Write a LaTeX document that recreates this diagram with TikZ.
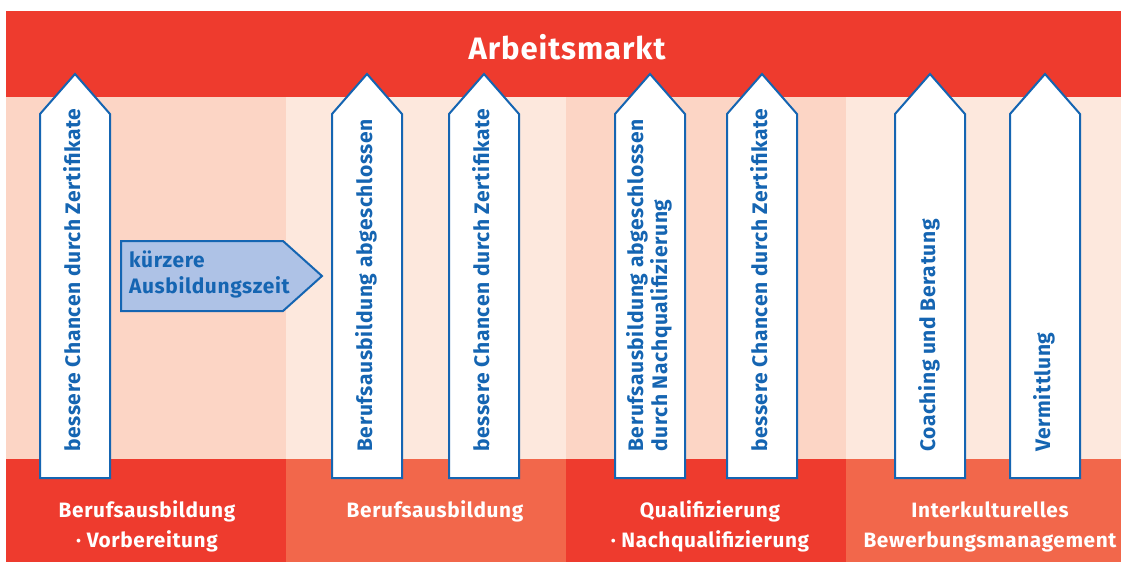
\documentclass[tikz,border=0pt]{standalone}
\usepackage{fontspec}
\setmainfont{Fira Sans}[LetterSpace=3]
\definecolor{redband}{HTML}{EE3B2E}
\definecolor{redlight}{HTML}{F2674B}
\definecolor{peachA}{HTML}{FCD5C5}
\definecolor{peachB}{HTML}{FDE8DD}
\definecolor{bluel}{HTML}{1565B2}
\definecolor{bluefill}{HTML}{AEC2E6}
\tikzset{
  uparrow/.style={draw=bluel, line width=2pt, fill=white, line join=miter},
  arrowtext/.style={rotate=90, anchor=base west, inner sep=0pt, text=bluel, font=\fontsize{21}{24}\selectfont\bfseries, align=left},
  bottomtext/.style={anchor=base, inner sep=0pt, text=white, font=\fontsize{20.8}{22}\selectfont\bfseries},
}
\newcommand{\uparr}[2]{%
  \draw[uparrow] (#1,478) -- (#1,114) -- ({(#1+#2)/2},74) -- (#2,114) -- (#2,478) -- cycle;}
\begin{document}
\begin{tikzpicture}[x=1pt,y=-1pt]
\useasboundingbox (0,0) rectangle (1121,562);
\fill[white] (0,0) rectangle (1121,562);
% column backgrounds
\fill[peachA] (6,97) rectangle (286,459);
\fill[peachB] (286,97) rectangle (566,459);
\fill[peachA] (566,97) rectangle (846,459);
\fill[peachB] (846,97) rectangle (1121,459);
\fill[redband] (6,459) rectangle (286,562);
\fill[redlight] (286,459) rectangle (566,562);
\fill[redband] (566,459) rectangle (846,562);
\fill[redlight] (846,459) rectangle (1121,562);
% top band
\fill[redband] (6,11) rectangle (1121,97);
\node[anchor=base, inner sep=0pt, text=white, font=\fontsize{31}{33}\selectfont\bfseries] (title) at (567,59) {Arbeitsmarkt};
% arrows
\uparr{40}{110}
\uparr{332}{402}
\uparr{449}{519}
\uparr{615}{685}
\uparr{727}{797}
\uparr{895}{965}
\uparr{1010}{1080}
\node[arrowtext] (t1) at (80,452) {bessere Chancen durch Zertifikate};
\node[arrowtext] (t2) at (372,452) {Berufsausbildung abgeschlossen};
\node[arrowtext] (t3) at (489,452) {bessere Chancen durch Zertifikate};
\node[arrowtext] (t4) at (667,452) {Berufsausbildung abgeschlossen\\durch Nachqualifizierung};
\node[arrowtext] (t5) at (767,452) {bessere Chancen durch Zertifikate};
\node[arrowtext] (t6) at (935,452) {Coaching und Beratung};
\node[arrowtext] (t7) at (1050,452) {Vermittlung};
% kuerzere box
\draw[draw=bluel, line width=2pt, fill=bluefill, line join=miter] (121,241) -- (283,241) -- (322,276) -- (283,311) -- (121,311) -- cycle;
\node[anchor=base west, inner sep=0pt, text=bluel, font=\fontsize{20.9}{26}\selectfont\bfseries, align=left] (k) at (129,293) {kürzere\\Ausbildungszeit};
% bottom labels
\node[bottomtext] (b1a) at (147,517) {Berufsausbildung};
\node[bottomtext] (b1b) at (147,547) {· Vorbereitung};
\node[bottomtext] (b2) at (435,517) {Berufsausbildung};
\node[bottomtext] (b3a) at (710,517) {Qualifizierung};
\node[bottomtext] (b3b) at (710,547) {· Nachqualifizierung};
\node[bottomtext] (b4a) at (990,517) {Interkulturelles};
\node[bottomtext] (b4b) at (990,547) {Bewerbungsmanagement};
\end{tikzpicture}
\end{document}
